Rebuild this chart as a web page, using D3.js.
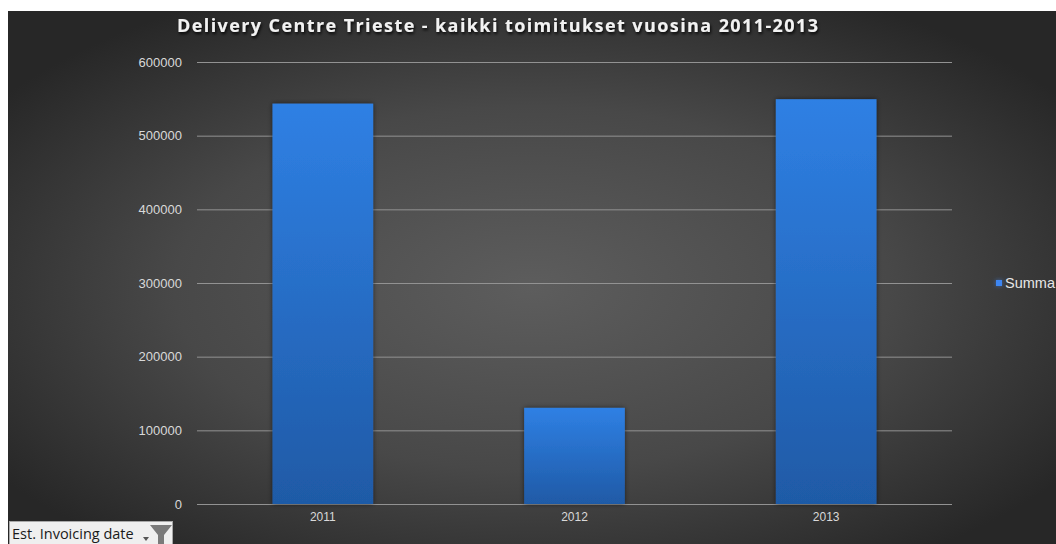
<!DOCTYPE html>
<html>
<head>
<meta charset="utf-8">
<script src="https://cdn.jsdelivr.net/npm/d3@7/dist/d3.min.js"></script>
<style>
  html, body { margin: 0; padding: 0; background: #ffffff; }
  svg { display: block; }
</style>
</head>
<body>
<script>
// Yearly delivery totals
const categories = ["2011", "2012", "2013"];
const values = [543500, 130500, 549500];
const yTicks = [0, 100000, 200000, 300000, 400000, 500000, 600000];
const seriesName = "Summa";
const chartTitle = "Delivery Centre Trieste - kaikki toimitukset vuosina 2011-2013";
const filterLabel = "Est. Invoicing date";

const W = 1056, H = 544;
const svg = d3.select("body").append("svg").attr("width", W).attr("height", H);
const defs = svg.append("defs");

// Chart area background: dark radial vignette
const bg = defs.append("radialGradient").attr("id", "bgGrad")
  .attr("cx", "50%").attr("cy", "52%").attr("r", "62%");
bg.append("stop").attr("offset", "0%").attr("stop-color", "#5d5d5d");
bg.append("stop").attr("offset", "55%").attr("stop-color", "#484848");
bg.append("stop").attr("offset", "100%").attr("stop-color", "#272727");

const barGrad = defs.append("linearGradient").attr("id", "barGrad")
  .attr("x1", 0).attr("y1", 0).attr("x2", 0).attr("y2", 1);
barGrad.append("stop").attr("offset", "0%").attr("stop-color", "#2f80e4");
barGrad.append("stop").attr("offset", "100%").attr("stop-color", "#1f5aa6");

const barShadow = defs.append("filter").attr("id", "barShadow")
  .attr("x", "-20%").attr("y", "-20%").attr("width", "140%").attr("height", "140%");
barShadow.append("feDropShadow").attr("dx", 0).attr("dy", 0).attr("stdDeviation", 2.5)
  .attr("flood-color", "#000").attr("flood-opacity", 0.55);

const titleShadow = defs.append("filter").attr("id", "titleShadow")
  .attr("x", "-5%").attr("y", "-50%").attr("width", "110%").attr("height", "200%");
titleShadow.append("feDropShadow").attr("dx", 1).attr("dy", 2).attr("stdDeviation", 1.8)
  .attr("flood-color", "#000").attr("flood-opacity", 0.9);

const glow = defs.append("filter").attr("id", "glow")
  .attr("x", "-150%").attr("y", "-150%").attr("width", "400%").attr("height", "400%");
glow.append("feDropShadow").attr("dx", 0).attr("dy", 0).attr("stdDeviation", 2)
  .attr("flood-color", "#3a7ae0").attr("flood-opacity", 0.7);

svg.append("rect").attr("x", 8).attr("y", 11).attr("width", W - 8).attr("height", H - 11)
  .attr("fill", "url(#bgGrad)");

const plot = { left: 197, right: 952, top: 62, bottom: 504 };

const x = d3.scaleBand().domain(categories).range([plot.left, plot.right])
  .paddingInner(0.6).paddingOuter(0.3);
const y = d3.scaleLinear().domain([0, 600000]).range([plot.bottom, plot.top]);

// Gridlines and value axis labels
const yAxis = d3.axisLeft(y).tickValues(yTicks).tickFormat(d3.format("d"))
  .tickSize(-(plot.right - plot.left)).tickPadding(15);
const gy = svg.append("g").attr("transform", `translate(${plot.left},0)`).call(yAxis);
gy.select(".domain").remove();
gy.selectAll(".tick line").attr("stroke", "#929292").attr("stroke-width", 1);
gy.selectAll(".tick text").attr("fill", "#d9d9d9")
  .style("font-family", "'Liberation Sans', Arial, sans-serif").style("font-size", "13px");

// Bars
svg.append("g").selectAll("rect").data(categories).join("rect")
  .attr("x", d => x(d))
  .attr("y", (d, i) => y(values[i]))
  .attr("width", x.bandwidth())
  .attr("height", (d, i) => y(0) - y(values[i]))
  .attr("fill", "url(#barGrad)")
  .attr("filter", "url(#barShadow)");

// Category axis
const xAxis = d3.axisBottom(x).tickSize(0).tickPadding(8);
const gx = svg.append("g").attr("transform", `translate(0,${plot.bottom})`).call(xAxis);
gx.select(".domain").remove();
gx.selectAll(".tick text").attr("fill", "#d9d9d9")
  .style("font-family", "'Liberation Sans', Arial, sans-serif").style("font-size", "12px");

// Title
svg.append("text").attr("x", 177).attr("y", 32)
  .attr("fill", "#f2f2f2")
  .attr("textLength", 641).attr("lengthAdjust", "spacing")
  .style("font-family", "'Open Sans', sans-serif").style("font-weight", "bold")
  .style("font-size", "18px")
  .attr("filter", "url(#titleShadow)")
  .text(chartTitle);

// Legend
svg.append("rect").attr("x", 996).attr("y", 280).attr("width", 6).attr("height", 6)
  .attr("fill", "#3d86f2").attr("filter", "url(#glow)");
svg.append("text").attr("x", 1005).attr("y", 288)
  .attr("fill", "#e6e6e6")
  .style("font-family", "'Liberation Sans', Arial, sans-serif").style("font-size", "14.5px")
  .text(seriesName);

// Field filter button
const btn = svg.append("g").attr("transform", "translate(9,521)");
btn.append("rect").attr("x", 0.5).attr("y", 0.5).attr("width", 163).attr("height", 26)
  .attr("fill", "#efefef").attr("stroke", "#a8a8a8");
btn.append("text").attr("x", 3).attr("y", 18)
  .attr("fill", "#1a1a1a")
  .style("font-family", "'Open Sans', sans-serif").style("font-size", "14.5px")
  .text(filterLabel);
// dropdown arrow
btn.append("path").attr("d", "M134,16 L140,16 L137,20 Z").attr("fill", "#555");
// funnel icon
btn.append("path").attr("d", "M141,4 L163,4 L155,14 L155,27 L149,27 L149,14 Z").attr("fill", "#7a7a7a");
</script>
</body>
</html>
